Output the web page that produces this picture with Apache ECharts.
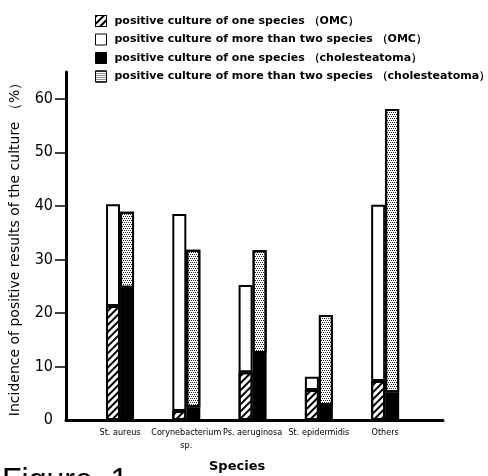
<!DOCTYPE html>
<html>
<head>
<meta charset="utf-8">
<script src="https://cdn.jsdelivr.net/npm/echarts@6/dist/echarts.min.js"></script>
<style>
    html, body { margin: 0; padding: 0; background: #fff; }
    #main { width: 488px; height: 476px; }
</style>
</head>
<body>
<div id="main"></div>
<script>
// categories on the x axis
var species = ['St. aureus', 'Corynebacterium\nsp.', 'Ps. aeruginosa', 'St. epidermidis', 'Others'];
// OMC (otitis media chronica)
var omcOne = [21.3, 1.7, 8.9, 5.6, 7.3];
var omcMore = [19.0, 36.8, 16.3, 2.5, 32.9];
// cholesteatoma
var cholOne = [24.7, 2.4, 12.5, 2.8, 5.2];
var cholMore = [14.2, 29.4, 19.2, 16.8, 52.9];
// y axis ticks
var yLabels = [0, 10, 20, 30, 40, 50, 60];
var yTicks = [10, 20, 30, 40, 50, 60];

var legendNames = [
    'positive culture of one species （OMC）',
    'positive culture of more than two species （OMC）',
    'positive culture of one species （cholesteatoma）',
    'positive culture of more than two species （cholesteatoma）'
];

// hatched ////
var hatch = {
    symbol: 'rect',
    symbolSize: 1,
    color: '#000',
    dashArrayX: [[1, 0]],
    dashArrayY: [1.5, 2.5],
    rotation: -Math.PI / 4
};
// staggered dots
var dots = {
    symbol: 'rect',
    symbolSize: 1,
    color: '#222',
    dashArrayX: [[1, 1], [0, 1, 1, 0]],
    dashArrayY: [1, 1]
};

function barSeries(name, stack, data, color, decal) {
    var style = {color: color, borderColor: '#000', borderWidth: 2};
    if (decal) style.decal = decal;
    return {
        name: name,
        type: 'bar',
        stack: stack,
        xAxisIndex: 0,
        yAxisIndex: 0,
        barWidth: 14,
        barGap: '0%',
        data: data,
        itemStyle: style,
        emphasis: {disabled: true}
    };
}

var myChart = echarts.init(document.getElementById('main'));
var option = {
    backgroundColor: '#fff',
    animation: false,
    legend: {
        orient: 'vertical',
        left: 90,
        top: 10,
        itemWidth: 11,
        itemHeight: 11,
        itemGap: 6.5,
        icon: 'rect',
        itemStyle: {borderColor: '#000', borderWidth: 1},
        textStyle: {
            fontFamily: 'DejaVu Sans',
            fontWeight: 'bold',
            fontSize: 11,
            color: '#000',
            padding: [0, 0, 0, 3]
        },
        data: legendNames
    },
    grid: [
        // bars
        {left: 86.9, right: 69.7, top: 72, bottom: 56},
        // axis frame
        {left: 66, right: 45, top: 72, bottom: 56}
    ],
    xAxis: [
        {
            type: 'category',
            gridIndex: 0,
            data: species,
            axisLine: {show: false},
            axisTick: {show: false},
            axisLabel: {
                interval: 0,
                fontFamily: 'DejaVu Sans Condensed',
                fontSize: 9,
                color: '#000',
                margin: 6,
                lineHeight: 13
            }
        },
        {
            type: 'value',
            gridIndex: 1,
            min: 0,
            max: 1,
            splitLine: {show: false},
            axisTick: {show: false},
            axisLabel: {show: false},
            axisLine: {show: true, onZero: false, lineStyle: {color: '#000', width: 3}}
        }
    ],
    yAxis: [
        {
            type: 'value',
            gridIndex: 0,
            min: 0,
            max: 65,
            show: false
        },
        {
            type: 'value',
            gridIndex: 1,
            min: 0,
            max: 65,
            name: 'Incidence of positive results of the culture （%）',
            nameLocation: 'middle',
            nameGap: 44,
            nameTextStyle: {fontFamily: 'DejaVu Sans', fontSize: 14, color: '#000'},
            splitLine: {show: false},
            axisLine: {show: true, onZero: false, lineStyle: {color: '#000', width: 3}},
            axisTick: {show: true, length: 11, customValues: yTicks, lineStyle: {color: '#000', width: 1.5}},
            axisLabel: {
                customValues: yLabels,
                fontFamily: 'DejaVu Sans Condensed',
                fontSize: 16,
                color: '#000',
                margin: 13
            }
        }
    ],
    series: [
        barSeries(legendNames[0], 'omc', omcOne, '#fff', hatch),
        barSeries(legendNames[1], 'omc', omcMore, '#fff', null),
        barSeries(legendNames[2], 'chol', cholOne, '#000', null),
        barSeries(legendNames[3], 'chol', cholMore, '#fff', dots)
    ],
    graphic: [
        {
            type: 'text',
            left: 209,
            top: 460,
            style: {text: 'Species', font: 'bold 13px "DejaVu Sans"', fill: '#000'}
        },
        {
            type: 'text',
            left: 2,
            top: 465,
            style: {text: 'Figure  1', font: '32px "Liberation Sans"', fill: '#000'}
        }
    ]
};
myChart.setOption(option);
</script>
</body>
</html>
